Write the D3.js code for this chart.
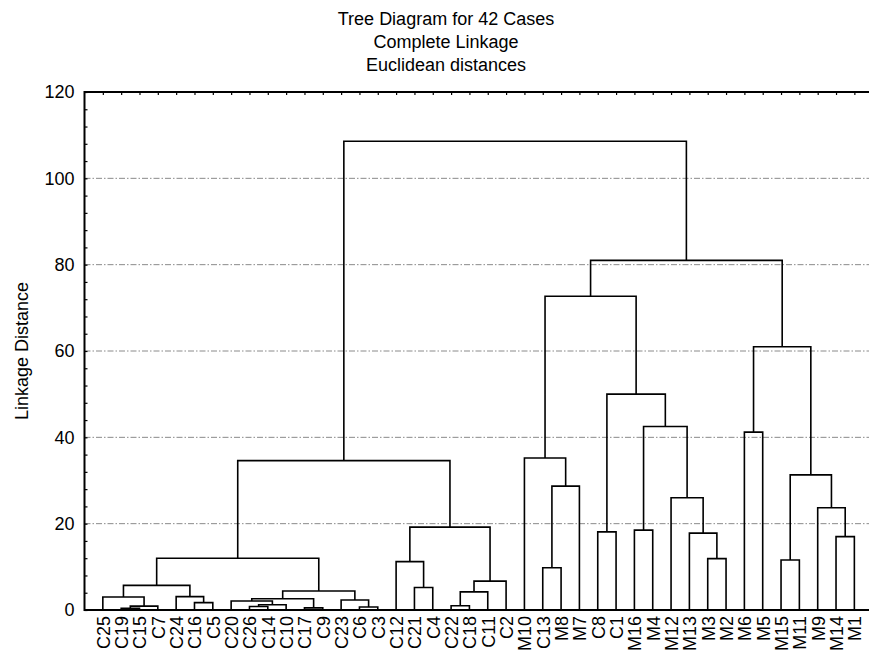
<!DOCTYPE html>
<html>
<head>
<meta charset="utf-8">
<script src="https://cdn.jsdelivr.net/npm/d3@7"></script>
<style>
  body { margin: 0; background: #fff; }
  text { font-family: "Liberation Sans", Arial, sans-serif; }
</style>
</head>
<body>
<script>
// Leaf order along the x axis
const leaves = [
  "C25", "C19", "C15", "C7", "C24", "C16", "C5", "C20", "C26", "C14", "C10",
  "C17", "C9", "C23", "C6", "C3", "C12", "C21", "C4", "C22", "C18", "C11",
  "C2", "M10", "C13", "M8", "M7", "C8", "C1", "M16", "M4", "M12", "M13",
  "M3", "M2", "M6", "M5", "M15", "M11", "M9", "M14", "M1"
];

// Merges in order: [left child, right child, linkage distance], ids m1..m41
const merges = [
  ["C19", "C15", 0.4],   // m1
  ["m1", "C7", 0.9],     // m2
  ["C25", "m2", 3.0],    // m3
  ["C16", "C5", 1.7],    // m4
  ["C24", "m4", 3.1],    // m5
  ["m3", "m5", 5.7],     // m6
  ["C26", "C14", 0.8],   // m7
  ["m7", "C10", 1.2],    // m8
  ["C20", "m8", 2.1],    // m9
  ["C17", "C9", 0.5],    // m10
  ["m9", "m10", 2.6],    // m11
  ["C6", "C3", 0.7],     // m12
  ["C23", "m12", 2.3],   // m13
  ["m11", "m13", 4.4],   // m14
  ["m6", "m14", 12.0],   // m15
  ["C21", "C4", 5.2],    // m16
  ["C12", "m16", 11.2],  // m17
  ["C22", "C18", 1.0],   // m18
  ["m18", "C11", 4.2],   // m19
  ["m19", "C2", 6.7],    // m20
  ["m17", "m20", 19.2],  // m21
  ["m15", "m21", 34.6],  // m22
  ["C13", "M8", 9.8],    // m23
  ["m23", "M7", 28.7],   // m24
  ["M10", "m24", 35.2],  // m25
  ["C8", "C1", 18.1],    // m26
  ["M16", "M4", 18.5],   // m27
  ["M3", "M2", 11.9],    // m28
  ["M13", "m28", 17.8],  // m29
  ["M12", "m29", 26.0],  // m30
  ["m27", "m30", 42.5],  // m31
  ["m26", "m31", 50.0],  // m32
  ["m25", "m32", 72.7],  // m33
  ["M6", "M5", 41.2],    // m34
  ["M15", "M11", 11.6],  // m35
  ["M14", "M1", 17.0],   // m36
  ["M9", "m36", 23.7],   // m37
  ["m35", "m37", 31.3],  // m38
  ["m34", "m38", 61.0],  // m39
  ["m33", "m39", 81.0],  // m40
  ["m22", "m40", 108.6]  // m41
];

const yTicks = [0, 20, 40, 60, 80, 100, 120];
const gridValues = [20, 40, 60, 80, 100];
const titleLines = ["Tree Diagram for 42 Cases", "Complete Linkage", "Euclidean distances"];

const width = 869;
const height = 654;
const margin = { top: 92, left: 84.5, bottom: 44 };
const step = 18.33;
const plotRight = margin.left + (leaves.length + 1) * step;
const plotBottom = height - margin.bottom;

const svg = d3.select("body")
  .append("svg")
  .attr("width", width)
  .attr("height", height);

// x: one slot per case, half a slot of air on each side
const xScale = d3.scalePoint()
  .domain(leaves)
  .range([margin.left + step, margin.left + leaves.length * step]);

const yScale = d3.scaleLinear()
  .domain([0, 120])
  .range([plotBottom, margin.top]);

// positions of leaves and merged clusters
const nodes = new Map();
leaves.forEach(name => nodes.set(name, { x: xScale(name), h: 0 }));
merges.forEach((m, i) => {
  const a = nodes.get(m[0]);
  const b = nodes.get(m[1]);
  nodes.set("m" + (i + 1), { x: (a.x + b.x) / 2, h: m[2], a: a, b: b });
});

// gridlines
svg.selectAll(".grid")
  .data(gridValues)
  .enter()
  .append("line")
  .attr("x1", margin.left)
  .attr("x2", plotRight)
  .attr("y1", d => yScale(d))
  .attr("y2", d => yScale(d))
  .attr("stroke", "#8a8a8a")
  .attr("stroke-width", 1)
  .attr("stroke-dasharray", "6,2,1.5,2");

// dendrogram elbows
svg.selectAll(".link")
  .data(merges.map((m, i) => nodes.get("m" + (i + 1))))
  .enter()
  .append("path")
  .attr("d", d => `M${d.a.x},${yScale(d.a.h)}V${yScale(d.h)}H${d.b.x}V${yScale(d.b.h)}`)
  .attr("fill", "none")
  .attr("stroke", "#000")
  .attr("stroke-width", 1.6);

// frame: left, top, bottom
svg.append("path")
  .attr("d", `M${plotRight},${margin.top}H${margin.left}V${plotBottom}H${plotRight}`)
  .attr("fill", "none")
  .attr("stroke", "#000")
  .attr("stroke-width", 2);

// y axis labels
const yAxis = svg.append("g")
  .attr("transform", `translate(${margin.left},0)`)
  .call(d3.axisLeft(yScale).tickValues(yTicks).tickSize(0).tickPadding(10));
yAxis.select(".domain").remove();
yAxis.selectAll("text")
  .attr("font-size", 18)
  .attr("font-family", "Liberation Sans, Arial, sans-serif")
  .attr("fill", "#000");

// minor inward ticks on the y axis
const yMinor = svg.append("g")
  .attr("transform", `translate(${margin.left},0)`)
  .call(d3.axisRight(yScale).tickValues(d3.range(0, 121, 4)).tickSize(3).tickFormat(""));
yMinor.select(".domain").remove();
yMinor.selectAll("line").attr("stroke-width", 1.2);

// inward ticks on the top edge at each case
const xTop = svg.append("g")
  .attr("transform", `translate(0,${margin.top})`)
  .call(d3.axisBottom(xScale).tickSize(3).tickFormat(""));
xTop.select(".domain").remove();
xTop.selectAll("line").attr("stroke-width", 1.2);

// case labels, rotated
const xAxis = svg.append("g")
  .attr("transform", `translate(0,${plotBottom})`)
  .call(d3.axisBottom(xScale).tickSize(0));
xAxis.select(".domain").remove();
xAxis.selectAll("text")
  .attr("transform", "rotate(-90)")
  .attr("x", -6)
  .attr("y", 0)
  .attr("dy", "0.36em")
  .attr("text-anchor", "end")
  .attr("font-size", 18)
  .attr("font-family", "Liberation Sans, Arial, sans-serif")
  .attr("fill", "#000");

// y axis title
svg.append("text")
  .attr("transform", "rotate(-90)")
  .attr("x", -351)
  .attr("y", 28)
  .attr("text-anchor", "middle")
  .style("font-size", "18px")
  .text("Linkage Distance");

// title
svg.selectAll(".title")
  .data(titleLines)
  .enter()
  .append("text")
  .attr("x", 446)
  .attr("y", (d, i) => 25 + i * 23)
  .attr("text-anchor", "middle")
  .style("font-size", "18px")
  .text(d => d);
</script>
</body>
</html>
